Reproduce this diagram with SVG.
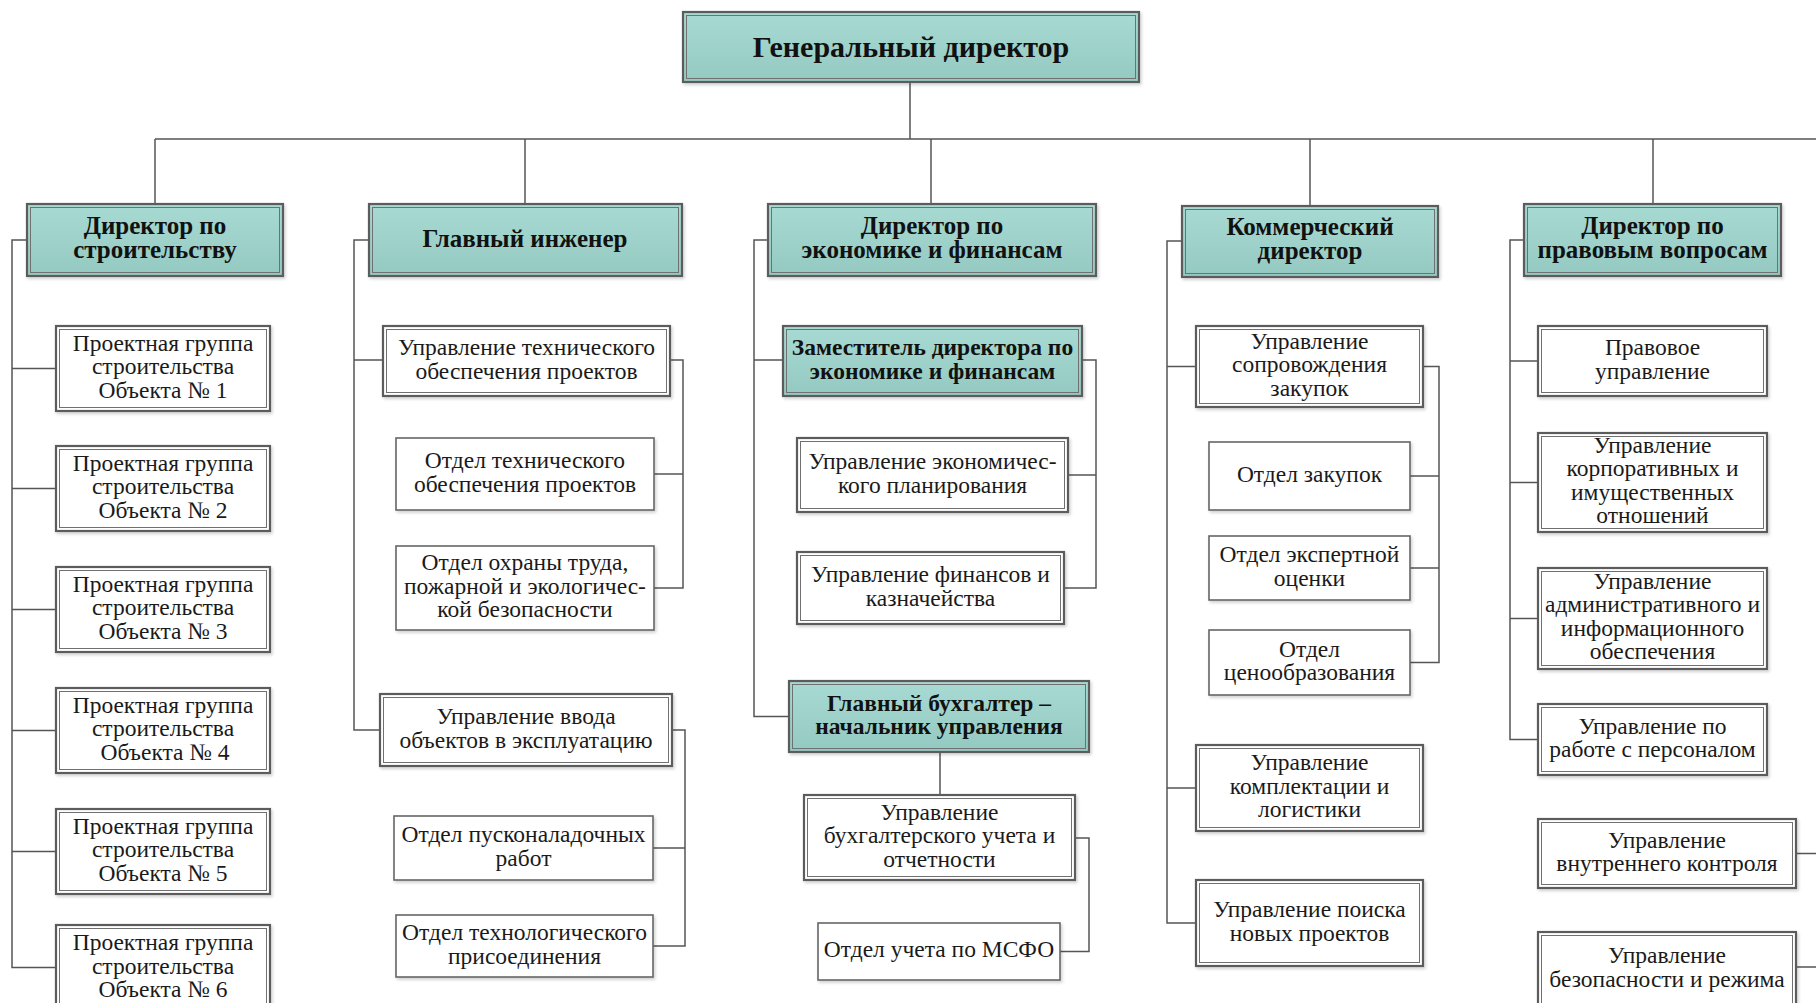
<svg xmlns="http://www.w3.org/2000/svg" width="1816" height="1003" viewBox="0 0 1816 1003">
<style>
.bg{fill:#ffffff}
.o{fill:#ffffff;stroke:#5c5c5c;stroke-width:2.2;filter:url(#sh)}
.ot{fill:url(#teal);stroke:#5c5c5c;stroke-width:2.2;filter:url(#sh)}
.i{fill:none;stroke:#707070;stroke-width:1}
.s{fill:#ffffff;stroke:#666666;stroke-width:1.6;filter:url(#sh)}
.t{font-family:"Liberation Serif","Times New Roman",serif;font-size:23.5px;fill:#1a1a1a;text-anchor:middle}
.b{font-family:"Liberation Serif","Times New Roman",serif;font-weight:bold;font-size:25px;fill:#111;text-anchor:middle}
.bs{font-size:23.5px}
.gd{font-size:30px}
.c{fill:none;stroke:#555555;stroke-width:1.5}
</style>
<defs>
<linearGradient id="teal" x1="0" y1="0" x2="0" y2="1">
<stop offset="0" stop-color="#a7dad2"/>
<stop offset="1" stop-color="#94c9c1"/>
</linearGradient>
<filter id="sh" x="-5%" y="-10%" width="110%" height="130%">
<feDropShadow dx="1.5" dy="2" stdDeviation="1.5" flood-color="#000" flood-opacity="0.18"/>
</filter>
</defs>
<rect class="bg" x="0" y="0" width="1816" height="1003"/>

<g id="connectors">
<path class="c" d="M910 82V139M155 139H1816M155 139V204M525 139V204M931 139V204M1310 139V206M1653 139V204"/>
<path class="c" d="M27 240H12V967.5H56M12 368.5H56M12 488.5H56M12 609.5H56M12 730.5H56M12 851.5H56"/>
<path class="c" d="M369 240H354V730H380M354 360H383"/>
<path class="c" d="M670 360H683V588H654M683 474H654"/>
<path class="c" d="M672 730H685V946H653M685 848H653"/>
<path class="c" d="M768 240H754V716.5H789M754 360H783"/>
<path class="c" d="M1082 360H1096V588H1064M1096 475H1068"/>
<path class="c" d="M940 752V795"/>
<path class="c" d="M1075 838H1089V951.5H1060"/>
<path class="c" d="M1182 241H1167V923H1196M1167 366.5H1196M1167 788H1196"/>
<path class="c" d="M1423 366.5H1439V662.5H1410M1439 476H1410M1439 568H1410"/>
<path class="c" d="M1524 240H1510V739.5H1538M1510 361H1538M1510 482.5H1538M1510 618.5H1538"/>
<path class="c" d="M1796 853.5H1816M1796 967H1816"/>
</g>

<g id="n-gd"><rect class="ot" x="683" y="12" width="456" height="70"/><rect class="i" x="686.5" y="15.5" width="449" height="63"/><text class="b gd" x="911" y="57">Генеральный директор</text></g>

<g id="n-l2a"><rect class="ot" x="27" y="204" width="256" height="72"/><rect class="i" x="30.5" y="207.5" width="249" height="65"/><text class="b" x="155"><tspan x="155" y="234">Директор по</tspan><tspan x="155" y="258">строительству</tspan></text></g>
<g id="n-l2b"><rect class="ot" x="369" y="204" width="313" height="72"/><rect class="i" x="372.5" y="207.5" width="306" height="65"/><text class="b" x="525" y="247">Главный инженер</text></g>
<g id="n-l2c"><rect class="ot" x="768" y="204" width="328" height="72"/><rect class="i" x="771.5" y="207.5" width="321" height="65"/><text class="b"><tspan x="932" y="234">Директор по</tspan><tspan x="932" y="258">экономике и финансам</tspan></text></g>
<g id="n-l2d"><rect class="ot" x="1182" y="206" width="256" height="71"/><rect class="i" x="1185.5" y="209.5" width="249" height="64"/><text class="b"><tspan x="1310" y="235">Коммерческий</tspan><tspan x="1310" y="259">директор</tspan></text></g>
<g id="n-l2e"><rect class="ot" x="1524" y="204" width="257" height="72"/><rect class="i" x="1527.5" y="207.5" width="250" height="65"/><text class="b"><tspan x="1652.5" y="234">Директор по</tspan><tspan x="1652.5" y="258">правовым вопросам</tspan></text></g>

<g id="n-pg1"><rect class="o" x="56" y="326" width="214" height="85"/><rect class="i" x="59.5" y="329.5" width="207" height="78"/><text class="t"><tspan x="163" y="350.5">Проектная группа</tspan><tspan x="163" y="374">строительства</tspan><tspan x="163" y="397.5">Объекта № 1</tspan></text></g>
<g id="n-pg2"><rect class="o" x="56" y="446" width="214" height="85"/><rect class="i" x="59.5" y="449.5" width="207" height="78"/><text class="t"><tspan x="163" y="470.5">Проектная группа</tspan><tspan x="163" y="494">строительства</tspan><tspan x="163" y="517.5">Объекта № 2</tspan></text></g>
<g id="n-pg3"><rect class="o" x="56" y="567" width="214" height="85"/><rect class="i" x="59.5" y="570.5" width="207" height="78"/><text class="t"><tspan x="163" y="591.5">Проектная группа</tspan><tspan x="163" y="615">строительства</tspan><tspan x="163" y="638.5">Объекта № 3</tspan></text></g>
<g id="n-pg4"><rect class="o" x="56" y="688" width="214" height="85"/><rect class="i" x="59.5" y="691.5" width="207" height="78"/><text class="t"><tspan x="163" y="712.5">Проектная группа</tspan><tspan x="163" y="736">строительства</tspan><tspan x="165" y="759.5">Объекта № 4</tspan></text></g>
<g id="n-pg5"><rect class="o" x="56" y="809" width="214" height="85"/><rect class="i" x="59.5" y="812.5" width="207" height="78"/><text class="t"><tspan x="163" y="833.5">Проектная группа</tspan><tspan x="163" y="857">строительства</tspan><tspan x="163" y="880.5">Объекта № 5</tspan></text></g>
<g id="n-pg6"><rect class="o" x="56" y="925" width="214" height="90"/><rect class="i" x="59.5" y="928.5" width="207" height="83"/><text class="t"><tspan x="163" y="950">Проектная группа</tspan><tspan x="163" y="973.5">строительства</tspan><tspan x="163" y="997">Объекта № 6</tspan></text></g>

<g id="n-uto"><rect class="o" x="383" y="326" width="287" height="70"/><rect class="i" x="386.5" y="329.5" width="280" height="63"/><text class="t"><tspan x="526.5" y="355">Управление технического</tspan><tspan x="526.5" y="378.5">обеспечения проектов</tspan></text></g>
<g id="n-oto"><rect class="s" x="396" y="438" width="258" height="72"/><text class="t"><tspan x="525" y="468">Отдел технического</tspan><tspan x="525" y="491.5">обеспечения проектов</tspan></text></g>
<g id="n-oot"><rect class="s" x="396" y="546" width="258" height="84"/><text class="t"><tspan x="525" y="570">Отдел охраны труда,</tspan><tspan x="525" y="593.5">пожарной и экологичес-</tspan><tspan x="525" y="617">кой безопасности</tspan></text></g>
<g id="n-uvo"><rect class="o" x="380" y="694" width="292" height="72"/><rect class="i" x="383.5" y="697.5" width="285" height="65"/><text class="t"><tspan x="526" y="724">Управление ввода</tspan><tspan x="526" y="747.5">объектов в эксплуатацию</tspan></text></g>
<g id="n-opr"><rect class="s" x="394" y="816" width="259" height="64"/><text class="t"><tspan x="523.5" y="842">Отдел пусконаладочных</tspan><tspan x="523.5" y="865.5">работ</tspan></text></g>
<g id="n-otp"><rect class="s" x="396" y="915" width="257" height="62"/><text class="t"><tspan x="524.5" y="940">Отдел технологического</tspan><tspan x="524.5" y="963.5">присоединения</tspan></text></g>

<g id="n-zd"><rect class="ot" x="783" y="326" width="299" height="70"/><rect class="i" x="786.5" y="329.5" width="292" height="63"/><text class="b bs"><tspan x="932.5" y="355">Заместитель директора по</tspan><tspan x="932.5" y="378.5">экономике и финансам</tspan></text></g>
<g id="n-uep"><rect class="o" x="797" y="438" width="271" height="74"/><rect class="i" x="800.5" y="441.5" width="264" height="67"/><text class="t"><tspan x="932.5" y="469">Управление экономичес-</tspan><tspan x="932.5" y="492.5">кого планирования</tspan></text></g>
<g id="n-ufk"><rect class="o" x="797" y="552" width="267" height="72"/><rect class="i" x="800.5" y="555.5" width="260" height="65"/><text class="t"><tspan x="930.5" y="582">Управление финансов и</tspan><tspan x="930.5" y="605.5">казначейства</tspan></text></g>
<g id="n-gb"><rect class="ot" x="789" y="681" width="300" height="71"/><rect class="i" x="792.5" y="684.5" width="293" height="64"/><text class="b bs"><tspan x="939" y="710.5">Главный бухгалтер –</tspan><tspan x="939" y="734">начальник управления</tspan></text></g>
<g id="n-ubu"><rect class="o" x="804" y="795" width="271" height="85"/><rect class="i" x="807.5" y="798.5" width="264" height="78"/><text class="t"><tspan x="939.5" y="819.5">Управление</tspan><tspan x="939.5" y="843">бухгалтерского учета и</tspan><tspan x="939.5" y="866.5">отчетности</tspan></text></g>
<g id="n-oum"><rect class="s" x="818" y="923" width="242" height="57"/><text class="t" x="939" y="957">Отдел учета по МСФО</text></g>

<g id="n-usz"><rect class="o" x="1196" y="326" width="227" height="81"/><rect class="i" x="1199.5" y="329.5" width="220" height="74"/><text class="t"><tspan x="1309.5" y="348.5">Управление</tspan><tspan x="1309.5" y="372">сопровождения</tspan><tspan x="1309.5" y="395.5">закупок</tspan></text></g>
<g id="n-oz"><rect class="s" x="1209" y="442" width="201" height="68"/><text class="t" x="1309.5" y="481.5">Отдел закупок</text></g>
<g id="n-oeo"><rect class="s" x="1209" y="536" width="201" height="64"/><text class="t"><tspan x="1309.5" y="562">Отдел экспертной</tspan><tspan x="1309.5" y="585.5">оценки</tspan></text></g>
<g id="n-oc"><rect class="s" x="1209" y="630" width="201" height="65"/><text class="t"><tspan x="1309.5" y="656.5">Отдел</tspan><tspan x="1309.5" y="680">ценообразования</tspan></text></g>
<g id="n-ukl"><rect class="o" x="1196" y="745" width="227" height="86"/><rect class="i" x="1199.5" y="748.5" width="220" height="79"/><text class="t"><tspan x="1309.5" y="770">Управление</tspan><tspan x="1309.5" y="793.5">комплектации и</tspan><tspan x="1309.5" y="817">логистики</tspan></text></g>
<g id="n-upn"><rect class="o" x="1196" y="880" width="227" height="86"/><rect class="i" x="1199.5" y="883.5" width="220" height="79"/><text class="t"><tspan x="1309.5" y="917">Управление поиска</tspan><tspan x="1309.5" y="940.5">новых проектов</tspan></text></g>

<g id="n-pu"><rect class="o" x="1538" y="326" width="229" height="70"/><rect class="i" x="1541.5" y="329.5" width="222" height="63"/><text class="t"><tspan x="1652.5" y="355">Правовое</tspan><tspan x="1652.5" y="378.5">управление</tspan></text></g>
<g id="n-uki"><rect class="o" x="1538" y="433" width="229" height="99"/><rect class="i" x="1541.5" y="436.5" width="222" height="92"/><text class="t"><tspan x="1652.5" y="452.75">Управление</tspan><tspan x="1652.5" y="476.25">корпоративных и</tspan><tspan x="1652.5" y="499.75">имущественных</tspan><tspan x="1652.5" y="523.25">отношений</tspan></text></g>
<g id="n-uai"><rect class="o" x="1538" y="568" width="229" height="101"/><rect class="i" x="1541.5" y="571.5" width="222" height="94"/><text class="t"><tspan x="1652.5" y="588.75">Управление</tspan><tspan x="1652.5" y="612.25">административного и</tspan><tspan x="1652.5" y="635.75">информационного</tspan><tspan x="1652.5" y="659.25">обеспечения</tspan></text></g>
<g id="n-upp"><rect class="o" x="1538" y="704" width="229" height="71"/><rect class="i" x="1541.5" y="707.5" width="222" height="64"/><text class="t"><tspan x="1652.5" y="733.5">Управление по</tspan><tspan x="1652.5" y="757">работе с персоналом</tspan></text></g>
<g id="n-uvk"><rect class="o" x="1538" y="819" width="258" height="69"/><rect class="i" x="1541.5" y="822.5" width="251" height="62"/><text class="t"><tspan x="1667" y="847.5">Управление</tspan><tspan x="1667" y="871">внутреннего контроля</tspan></text></g>
<g id="n-ubr"><rect class="o" x="1538" y="932" width="258" height="80"/><rect class="i" x="1541.5" y="935.5" width="251" height="73"/><text class="t"><tspan x="1667" y="962.5">Управление</tspan><tspan x="1667" y="987">безопасности и режима</tspan></text></g>
</svg>
